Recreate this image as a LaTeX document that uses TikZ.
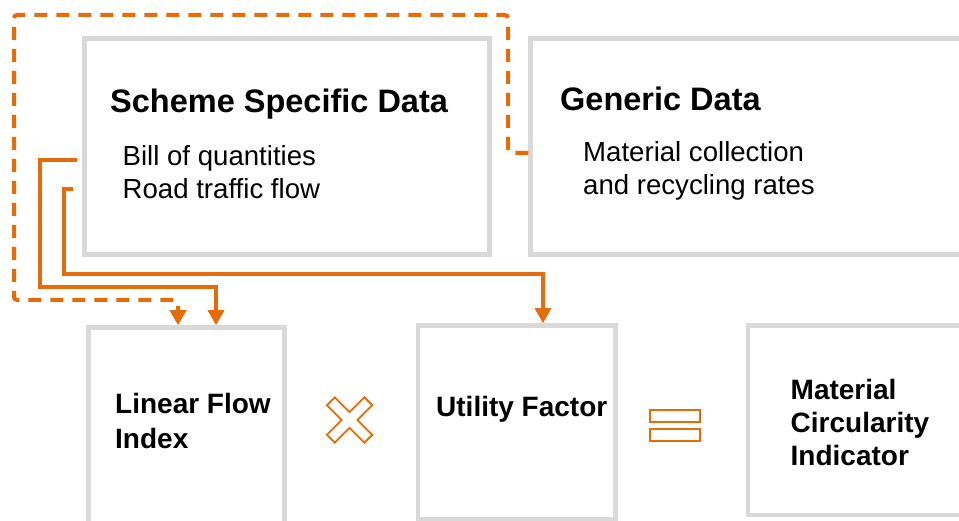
\documentclass[tikz,border=0pt]{standalone}
\usepackage{fontspec}
\setmainfont{Liberation Sans}
\usetikzlibrary{arrows.meta}
\definecolor{boxgray}{HTML}{D9D9D9}
\definecolor{accent}{HTML}{E46C0A}
\begin{document}
\begin{tikzpicture}[x=1pt,y=-1pt,
  box/.style={draw=boxgray, line width=4.5pt, rectangle, inner sep=0pt, fill=white},
  title/.style={anchor=base west, inner sep=0pt, font=\bfseries\fontsize{32.5}{39}\selectfont},
  sub/.style={anchor=base west, inner sep=0pt, font=\fontsize{27.6}{33}\selectfont},
  lowtitle/.style={anchor=base west, inner sep=0pt, font=\bfseries\fontsize{28}{33}\selectfont},
  flow/.style={draw=accent, line width=3.2pt, -{Triangle[width=16pt,length=15pt]}},
  dflow/.style={flow, line width=4pt, dash pattern=on 13pt off 9pt, rounded corners=3pt},
  sym/.style={draw=accent, line width=1.8pt, line join=miter}]
\useasboundingbox (0,0) rectangle (959,521);
\begin{scope}
\clip (0,0) rectangle (959,521);
% boxes
\node[box, minimum width=405pt, minimum height=216pt] (scheme) at (287,146.5) {};
\node[box, minimum width=459.5pt, minimum height=216pt] (generic) at (760.25,146.5) {};
\node[box, minimum width=196pt, minimum height=232.5pt] (lf) at (186.5,443.75) {};
\node[box, minimum width=197.5pt, minimum height=193.5pt] (uf) at (516.75,422.25) {};
\node[box, minimum width=242pt, minimum height=189.5pt] (mci) at (869,420.25) {};
% texts
\node[title] (schemeT) at (110,112.5) {Scheme Specific Data};
\node[sub] (bill) at (122.5,165.7) {Bill of quantities};
\node[sub] (road) at (122.5,199) {Road traffic flow};
\node[title] (genericT) at (560,110.7) {Generic Data};
\node[sub] (mat) at (583,162) {Material collection};
\node[sub] (rec) at (583,195) {and recycling rates};
\node[lowtitle] (lf1) at (115,413.3) {Linear Flow};
\node[lowtitle] (lf2) at (115,448.3) {Index};
\node[lowtitle] (uf1) at (436,417) {Utility Factor};
\node[lowtitle] (mci1) at (790.5,399.5) {Material};
\node[lowtitle] (mci2) at (790.5,432.5) {Circularity};
\node[lowtitle] (mci3) at (790.5,465.5) {Indicator};
% connectors
\coordinate (d1) at (178,300);
\coordinate (s1) at (216,287);
\coordinate (s2) at (543,274);
\draw[dflow] ([shift={(0,6.5)}]generic.west) -- (508,153) -- (508,15) -- (14,15) -- (14,300) -- (d1) -- (d1 |- lf.north);
\draw[flow] ([shift={(-5.25,13.5)}]scheme.west) -- (40,160) -- (40,287) -- (s1) -- (s1 |- lf.north);
\draw[flow] ([shift={(-9.25,42.5)}]scheme.west) -- (64,189) -- (64,274) -- (s2) -- (s2 |- uf.north);
% operators
\def\w{5.5}\def\L{26.5}
\draw[sym, shift={(349.5,420)}, rotate=45]
  (\w,\L) -- (\w,\w) -- (\L,\w) -- (\L,-\w) -- (\w,-\w) -- (\w,-\L) -- (-\w,-\L) -- (-\w,-\w) -- (-\L,-\w) -- (-\L,\w) -- (-\w,\w) -- (-\w,\L) -- cycle;
\draw[sym] (650,410) rectangle (700,422);
\draw[sym] (650,429) rectangle (700,441);
\end{scope}
\end{tikzpicture}
\end{document}
